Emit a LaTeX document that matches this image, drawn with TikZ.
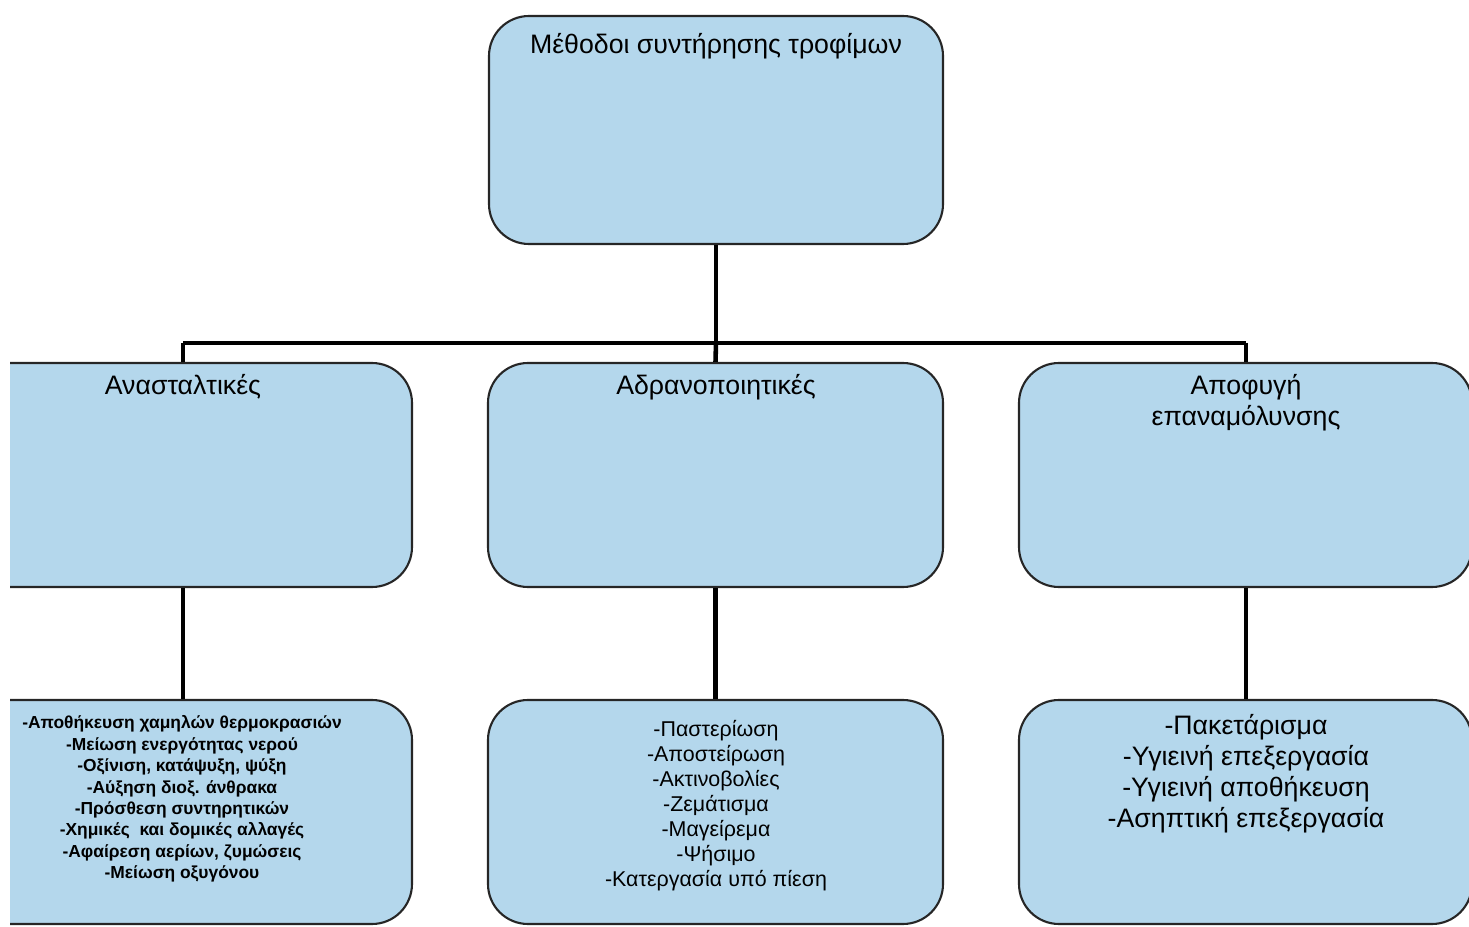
\documentclass[tikz,border=0pt]{standalone}
\usepackage{fontspec}
\setmainfont{Liberation Sans}
\usepackage{tikz}

\definecolor{boxblue}{RGB}{180,215,236}

\tikzset{
  box/.style={draw=black!85, line width=0.6pt, fill=boxblue, rounded corners=0.4cm},
  link/.style={line width=1.3pt},
  head/.style={font=\fontsize{7.6}{8.8}\selectfont, align=center},
  listA/.style={font=\bfseries\fontsize{4.95}{6.1}\selectfont, align=center},
  listB/.style={font=\fontsize{6.1}{7.1}\selectfont, align=center},
  listC/.style={font=\fontsize{7.6}{8.8}\selectfont, align=center}
}

\begin{document}
\begin{tikzpicture}
  \useasboundingbox (0,0) rectangle (14.69,9.26);
  % boxes
  \node[box, minimum width=4.54cm, minimum height=2.28cm] (top) at (7.16,7.96) {};
  \begin{scope}
    \clip (0.10,0) rectangle (14.69,9.26);
    \node[box, minimum width=4.62cm, minimum height=2.24cm] (ana) at (1.81,4.51) {};
    \node[box, minimum width=4.62cm, minimum height=2.24cm] (anaL) at (1.81,1.14) {};
  \end{scope}
  \node[box, minimum width=4.55cm, minimum height=2.24cm] (adr) at (7.155,4.51) {};
  \node[box, minimum width=4.53cm, minimum height=2.24cm] (apo) at (12.455,4.51) {};
  \node[box, minimum width=4.55cm, minimum height=2.24cm] (adrL) at (7.155,1.14) {};
  \node[box, minimum width=4.53cm, minimum height=2.24cm] (apoL) at (12.455,1.14) {};
  % texts
  \node[head] (topT) at (7.16,8.80) {Μέθοδοι συντήρησης τροφίμων};
  \node[head] (anaT) at (1.83,5.39) {Ανασταλτικές};
  \node[head] (adrT) at (7.16,5.39) {Αδρανοποιητικές};
  \node[head] (apoT) at (12.46,5.23) {Αποφυγή\\επαναμόλυνσης};
  \node[listA] (anaList) at (1.82,1.27) {-Αποθήκευση χαμηλών θερμοκρασιών\\-Μείωση ενεργότητας νερού\\-Οξίνιση, κατάψυξη, ψύξη\\-Αύξηση διοξ. άνθρακα\\-Πρόσθεση συντηρητικών\\-Χημικές\ \ και δομικές αλλαγές\\-Αφαίρεση αερίων, ζυμώσεις\\-Μείωση οξυγόνου};
  \node[listB] (adrList) at (7.16,1.20) {-Παστερίωση\\-Αποστείρωση\\-Ακτινοβολίες\\-Ζεμάτισμα\\-Μαγείρεμα\\-Ψήσιμο\\-Κατεργασία υπό πίεση};
  \node[listC] (apoList) at (12.46,1.52) {-Πακετάρισμα\\-Υγιεινή επεξεργασία\\-Υγιεινή αποθήκευση\\-Ασηπτική επεξεργασία};
  % connectors
  \coordinate (busL) at (1.83,5.83);
  \coordinate (busR) at (12.46,5.83);
  \draw[link] (top.south) -- (top.south |- busL);
  \draw[link] (busL) -- (busR);
  \draw[link] (busL) -- (busL |- ana.north);
  \draw[link] (top.south |- busL) -- (adr.north);
  \draw[link] (busR) -- (busR |- apo.north);
  \draw[link] (busL |- ana.south) -- (busL |- anaL.north);
  \draw[link] (adr.south) -- (adrL.north);
  \draw[link] (busR |- apo.south) -- (busR |- apoL.north);
\end{tikzpicture}
\end{document}
